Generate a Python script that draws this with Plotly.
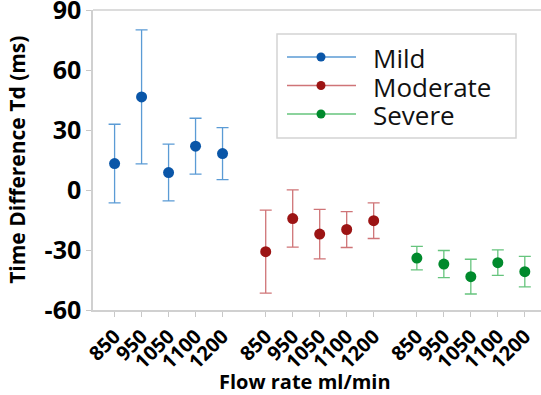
import plotly.graph_objects as go

flow_labels = ["850", "950", "1050", "1100", "1200"]
groups = ["Mild", "Moderate", "Severe"]
group_offsets = [0.0, 5.6, 11.2]

mild_mean = [13.3, 46.7, 8.8, 22.0, 18.3]
mild_err = [19.7, 33.5, 14.2, 14.0, 13.0]
moderate_mean = [-30.8, -14.2, -22.0, -19.7, -15.3]
moderate_err = [20.8, 14.3, 12.4, 9.0, 8.9]
severe_mean = [-34.0, -37.0, -43.3, -36.3, -40.8]
severe_err = [5.9, 6.8, 8.7, 6.4, 7.6]
y_ticks = [-60, -30, 0, 30, 60, 90]

means = [mild_mean, moderate_mean, severe_mean]
errs = [mild_err, moderate_err, severe_err]
marker_colors = ["#0a56a8", "#9c1414", "#008a2c"]
bar_colors = ["#5b9bd5", "#cf7477", "#66c47d"]

# plot area in pixels (for the hand-drawn legend)
L, T, W, H = 93, 10, 448, 300
def px(x):
    return (x - L) / W
def py(y):
    return (T + H - y) / H

fig = go.Figure()
tickvals, ticktext = [], []
for g, off, m, e, mc, bc in zip(groups, group_offsets, means, errs, marker_colors, bar_colors):
    xs = [off + i for i in range(len(flow_labels))]
    tickvals += xs
    ticktext += flow_labels
    fig.add_trace(go.Scatter(
        x=xs, y=m, mode="markers", showlegend=False, name=g,
        marker=dict(color=mc, size=11),
        error_y=dict(type="data", array=e, visible=True, color=bc, thickness=1.3, width=6),
    ))

shapes = [dict(type="line", xref="paper", yref="paper", x0=0, x1=1, y0=1, y1=1,
               line=dict(color="#d0d0d0", width=1.5)),
          dict(type="rect", xref="paper", yref="paper", x0=px(277), x1=px(516),
               y0=py(138), y1=py(34), line=dict(color="#d4d4d4", width=1.5),
               fillcolor="white", layer="above")]
annotations = [
    dict(text="<b>Flow rate ml/min</b>", xref="paper", yref="paper",
         x=0.473, y=-0.237, xanchor="center", yanchor="middle", showarrow=False,
         font=dict(size=20, color="black", family="Open Sans")),
    dict(text="<b>Time Difference Td (ms)</b>", xref="paper", yref="paper",
         x=-0.17, y=0.5, xanchor="center", yanchor="middle", showarrow=False,
         textangle=-90, font=dict(size=21, color="black", family="Open Sans")),
]
for i, (g, mc, bc) in enumerate(zip(groups, marker_colors, bar_colors)):
    yy = 57 + 28.5 * i
    shapes.append(dict(type="line", xref="paper", yref="paper", x0=px(287), x1=px(356),
                       y0=py(yy), y1=py(yy), line=dict(color=bc, width=1.3), layer="above"))
    shapes.append(dict(type="circle", xref="paper", yref="paper",
                       x0=px(321 - 4.5), x1=px(321 + 4.5), y0=py(yy + 4.5), y1=py(yy - 4.5),
                       fillcolor=mc, line=dict(color=mc, width=0), layer="above"))
    annotations.append(dict(text=g, xref="paper", yref="paper", x=px(371), y=py(yy + 1),
                            xanchor="left", yanchor="middle", showarrow=False,
                            font=dict(size=26, color="#111111", family="Open Sans")))

fig.update_layout(
    width=541, height=395,
    margin=dict(l=L, r=0, t=T, b=85),
    paper_bgcolor="white", plot_bgcolor="white",
    font=dict(family="Open Sans", color="black"),
    showlegend=False,
    xaxis=dict(
        range=[-0.8, 15.8], tickmode="array", tickvals=tickvals,
        ticktext=[f"<b>{t}</b>" for t in ticktext],
        tickangle=-45, tickfont=dict(size=20, family="Open Sans", color="black"),
        ticks="outside", ticklen=5, tickcolor="#c8c8c8",
        showline=True, linecolor="#d0d0d0", linewidth=1.5,
        showgrid=False, zeroline=False, mirror=False, automargin=False,
        ticklabeloverflow="allow",
    ),
    yaxis=dict(
        range=[-60, 90.2], tickmode="array", tickvals=y_ticks,
        ticktext=[f"<b>{v}</b>" for v in y_ticks],
        tickfont=dict(size=25, family="Open Sans", color="black"),
        ticks="outside", ticklen=5, tickcolor="#c8c8c8",
        showline=True, linecolor="#d0d0d0", linewidth=1.5,
        showgrid=False, zeroline=False, automargin=False,
        ticklabeloverflow="allow",
    ),
    annotations=annotations,
    shapes=shapes,
)

fig.write_html("out.html", config={"displayModeBar": False},
               post_script="document.body.style.margin='0';")
